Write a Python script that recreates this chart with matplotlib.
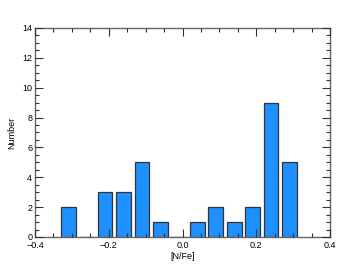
import matplotlib
matplotlib.use("Agg")
import matplotlib.pyplot as plt
from matplotlib.ticker import MultipleLocator

centers = [-0.31, -0.26, -0.21, -0.16, -0.11, -0.06, -0.01, 0.04, 0.09, 0.14, 0.19, 0.24, 0.29]
counts = [2, 0, 3, 3, 5, 1, 0, 1, 2, 1, 2, 9, 5]
xlabel = "[N/Fe]"
ylabel = "Number"

plt.rcParams['font.family'] = ['Liberation Sans', 'DejaVu Sans']
fig = plt.figure(figsize=(3.47, 2.78), dpi=100)
ax = fig.add_axes([0.101, 0.1475, 0.85, 0.752])
ax.bar(centers, counts, width=0.04, color='#1E90FF', edgecolor='#333333', linewidth=0.9, zorder=1)
ax.set_xlim(-0.4, 0.4)
ax.set_ylim(0, 14)
ax.xaxis.set_major_locator(MultipleLocator(0.2))
ax.xaxis.set_minor_locator(MultipleLocator(0.05))
ax.yaxis.set_major_locator(MultipleLocator(2))
ax.yaxis.set_minor_locator(MultipleLocator(0.5))
ax.tick_params(which='both', direction='in', top=True, right=True, colors='#333333',
               labelcolor='black', labelsize=6.5, zorder=5)
ax.tick_params(which='major', length=6, width=0.8, pad=2)
ax.tick_params(which='minor', length=3, width=0.8)
ax.set_xticks([-0.4, -0.2, 0.0, 0.2, 0.4])
ax.set_xticklabels(['\u22120.4', '\u22120.2', '0.0', '0.2', '0.4'])
ax.tick_params(axis='x', which='major', pad=3)
for s in ax.spines.values():
    s.set_color('#666666')
    s.set_linewidth(1.0)
ax.set_axisbelow(False)
ax.set_xlabel(xlabel, fontsize=6.5, labelpad=1)
ax.set_ylabel(ylabel, fontsize=6.5, labelpad=4)
fig.savefig("out.png", dpi=100)
